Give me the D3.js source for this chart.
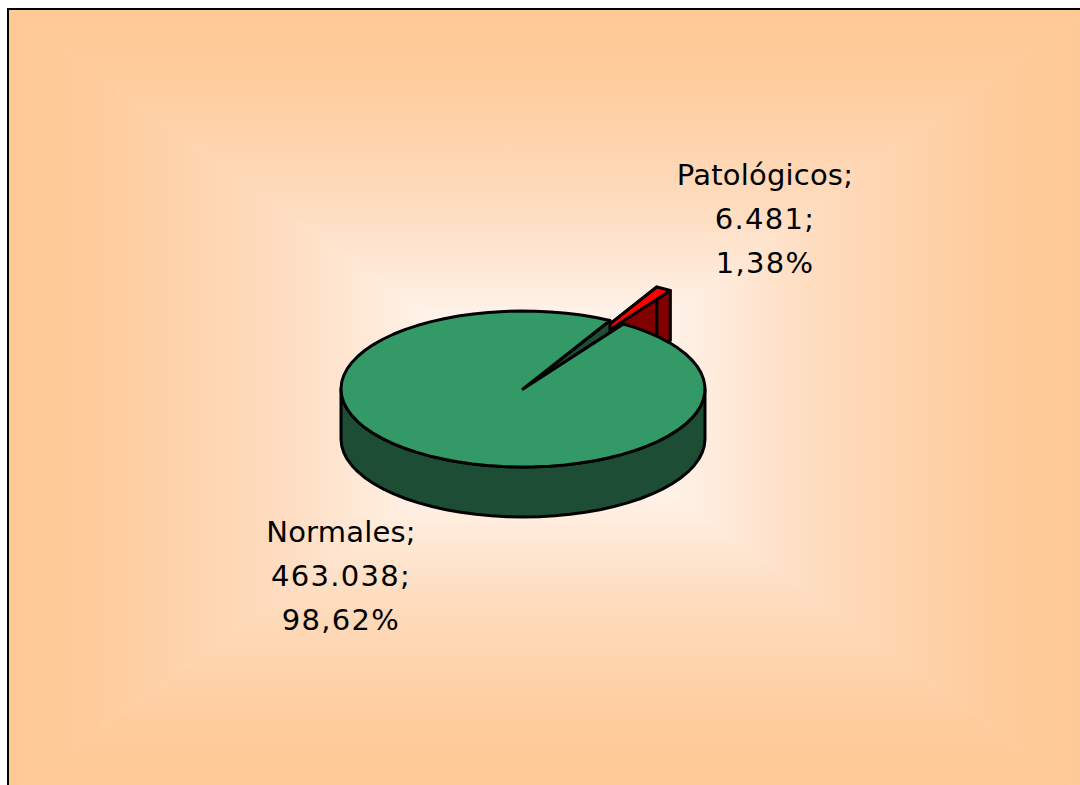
<!DOCTYPE html>
<html>
<head>
<meta charset="utf-8">
<script src="https://cdn.jsdelivr.net/npm/d3@7"></script>
<style>
  body { margin: 0; background: #fff; }
  svg { display: block; }
</style>
</head>
<body>
<div id="chart"></div>
<script>
// data
var categories = ["Normales", "Patológicos"];
var values = [463038, 6481];
var topColors = ["#339966", "#ff0000"];
var sideColors = ["#1d4d35", "#800000"];
var explode = [0, 0.5];

var W = 1080, H = 785;
var es = d3.formatLocale({decimal: ",", thousands: ".", grouping: [3], currency: ["", "€"]});
var fmtNum = es.format(",d"), fmtPct = es.format(".2%");
var total = d3.sum(values);

var svg = d3.select("#chart").append("svg")
    .attr("width", W)
    .attr("height", H);

// background: rectangular "from centre" gradient, peach -> white
var bx0 = 8, by0 = 9, bx1 = 1086, by1 = 796;
var mx = (bx0 + bx1) / 2, my = (by0 + by1) / 2;
var defs = svg.append("defs");
var sides = [
  {id: "gT", pts: [[bx0,by0],[bx1,by0],[mx,my]], x1:0,y1:by0,x2:0,y2:my},
  {id: "gB", pts: [[bx0,by1],[bx1,by1],[mx,my]], x1:0,y1:by1,x2:0,y2:my},
  {id: "gL", pts: [[bx0,by0],[bx0,by1],[mx,my]], x1:bx0,y1:0,x2:mx,y2:0},
  {id: "gR", pts: [[bx1,by0],[bx1,by1],[mx,my]], x1:bx1,y1:0,x2:mx,y2:0}
];
var stops = [[0, "#fec995"], [0.15, "#fecb9a"], [0.5, "#fedcbf"], [0.8, "#fff4ec"], [1, "#fffcf9"]];
sides.forEach(function(s){
  var g = defs.append("linearGradient").attr("id", s.id)
    .attr("gradientUnits", "userSpaceOnUse")
    .attr("x1", s.x1).attr("y1", s.y1).attr("x2", s.x2).attr("y2", s.y2);
  stops.forEach(function(st){
    g.append("stop").attr("offset", st[0]).attr("stop-color", st[1]);
  });
  svg.append("path")
    .attr("d", "M" + s.pts.join("L") + "Z")
    .attr("fill", "url(#" + s.id + ")")
    .attr("stroke", "url(#" + s.id + ")")
    .attr("stroke-width", 0.6);
});
svg.append("path")
  .attr("d", "M" + bx0 + "," + by1 + "V" + by0 + "H" + bx1)
  .attr("fill", "none").attr("stroke", "#000").attr("stroke-width", 2);

// 3D pie
var cx = 523, cy = 389, rx = 182, ry = 78, depth = 50;
var pie = d3.pie().sort(null)
  .startAngle(33.5 * Math.PI / 180)
  .endAngle((33.5 + 360) * Math.PI / 180);
var arcs = pie(values);

var line = d3.line();
function pt(t, h, o) { return [o[0] + cx + rx * Math.sin(t), o[1] + cy - ry * Math.cos(t) + h]; }
function arcPts(a, b, h, o) {
  var n = Math.max(2, Math.ceil(Math.abs(b - a) / (5 * Math.PI / 180)));
  return d3.range(n + 1).map(function(i){ return pt(a + (b - a) * i / n, h, o); });
}

var g = svg.append("g")
  .attr("stroke", "#000")
  .attr("stroke-width", 3)
  .attr("stroke-linejoin", "round");

// back slice first (the exploded one), then the big slice
[1, 0].forEach(function(i){
  var d = arcs[i];
  var mid = (d.startAngle + d.endAngle) / 2;
  var o = [rx * explode[i] * Math.sin(mid), -ry * explode[i] * Math.cos(mid)];
  var c0 = [cx + o[0], cy + o[1]], c1 = [cx + o[0], cy + o[1] + depth];

  // cut faces
  [d.endAngle, d.startAngle].forEach(function(t){
    g.append("path")
      .attr("d", line([c0, pt(t, 0, o), pt(t, depth, o), c1]) + "Z")
      .attr("fill", sideColors[i]);
  });

  // outer wall, front part only (cos t < 0)
  var k0 = Math.ceil((d.startAngle - Math.PI / 2) / (2 * Math.PI));
  for (var k = k0 - 1; k <= k0 + 1; k++) {
    var a = Math.max(d.startAngle, Math.PI / 2 + k * 2 * Math.PI);
    var b = Math.min(d.endAngle, 3 * Math.PI / 2 + k * 2 * Math.PI);
    if (b > a) {
      var top = arcPts(a, b, 0, o), bot = arcPts(b, a, depth, o);
      g.append("path")
        .attr("d", line(top.concat(bot)) + "Z")
        .attr("fill", sideColors[i]);
    }
  }

  // top face
  g.append("path")
    .attr("d", line([c0].concat(arcPts(d.startAngle, d.endAngle, 0, o))) + "Z")
    .attr("fill", topColors[i]);
});

// labels
var labelPos = [[341, 542], [765, 185]];
categories.forEach(function(c, i){
  var lines = [c + ";", fmtNum(values[i]) + ";", fmtPct(values[i] / total)];
  var t = svg.append("text")
    .attr("x", labelPos[i][0]).attr("y", labelPos[i][1])
    .attr("text-anchor", "middle")
    .attr("font-family", "DejaVu Sans, Verdana, sans-serif")
    .attr("font-size", 29)
    .attr("fill", "#000");
  lines.forEach(function(l, j){
    t.append("tspan")
      .attr("x", labelPos[i][0])
      .attr("dy", j ? 44 : 0)
      .attr("letter-spacing", j ? 1.3 : 0.2)
      .text(l);
  });
});
</script>
</body>
</html>
